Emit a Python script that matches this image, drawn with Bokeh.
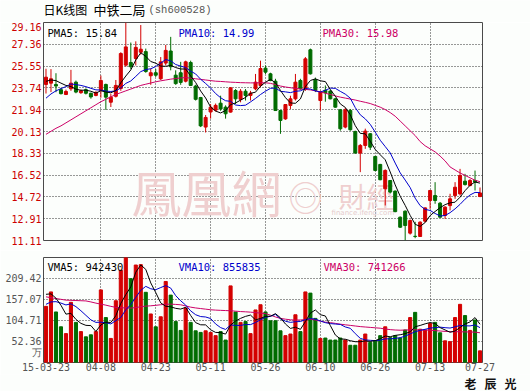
from bokeh.plotting import figure
from bokeh.models import Range1d, FixedTicker, Label, Grid, ColumnDataSource, BasicTickFormatter
from bokeh.layouts import column
from bokeh.embed import file_html
from bokeh.resources import INLINE

# ---------------- data ----------------
tick_idx = [0, 11, 22, 33, 44, 55, 66, 77, 87]
tick_labels = ["15-03-23", "04-08", "04-23", "05-11", "05-26", "06-10", "06-26", "07-13", "07-27"]
grid_idx = [11, 22, 33, 44, 55, 66, 77]
price_ticks = [11.11, 12.91, 14.72, 16.52, 18.33, 20.13, 21.94, 23.74, 25.55, 27.36, 29.16]
vol_ticks = [52.36, 104.71, 157.07, 209.42]
vol_unit_pos = 25
vol_unit = "万"
vol_top = 261.78

title_parts = ["日K线图", "中铁二局", "(sh600528)"]
pma_text = ["PMA5: 15.84", "PMA10: 14.99", "PMA30: 15.98"]
vma_text = ["VMA5: 942430", "VMA10: 855835", "VMA30: 741266"]
footer_chars = ["老", "辰", "光"]

open_ = [24.03, 24.14, 24.03, 23.60, 23.20, 23.67, 24.22, 23.35, 23.60, 23.30,
         23.12, 23.53, 24.03, 22.56, 23.05, 23.70, 25.63, 25.85, 26.18, 26.70,
         26.75, 24.75, 25.00, 24.50, 25.80, 26.80, 24.80, 25.00, 24.30, 25.85,
         23.90, 22.95, 20.50, 21.75, 21.90, 22.48, 22.15, 21.74, 23.53, 22.80,
         23.47, 23.12, 23.67, 23.94, 25.38, 24.91, 24.30, 21.87, 21.18, 22.29,
         22.84, 24.36, 23.67, 26.90, 24.42, 22.70, 23.55, 23.48, 22.84, 21.93,
         20.50, 21.88, 20.14, 18.35, 18.98, 19.95, 18.07, 17.41, 15.39, 16.08,
         15.20, 13.04, 13.54, 11.72, 11.46, 11.44, 12.71, 14.42, 14.83, 14.20,
         13.18, 14.00, 14.83, 14.97, 16.02, 15.66, 16.08, 14.75]
close = [24.63, 24.50, 23.90, 23.27, 23.45, 24.14, 23.40, 23.50, 23.30, 23.00,
         23.38, 24.36, 22.98, 22.98, 23.95, 26.59, 27.14, 25.50, 27.10, 26.95,
         25.10, 25.00, 24.80, 25.90, 26.85, 25.50, 24.10, 24.20, 25.90, 23.95,
         22.80, 20.60, 21.30, 22.15, 22.30, 22.00, 21.60, 23.75, 22.84, 23.47,
         23.12, 23.31, 24.22, 25.35, 25.05, 24.36, 21.87, 21.05, 22.37, 22.84,
         24.22, 23.67, 26.15, 24.91, 23.53, 23.40, 23.35, 22.84, 22.15, 20.36,
         21.93, 20.28, 18.35, 18.98, 20.17, 18.84, 16.91, 16.14, 16.91, 15.12,
         13.50, 12.21, 12.35, 12.76, 11.44, 12.63, 13.81, 15.25, 14.42, 13.04,
         13.87, 14.56, 15.52, 16.49, 15.74, 16.08, 15.94, 15.05]
high = [25.33, 25.30, 24.96, 23.75, 23.60, 25.24, 24.35, 23.60, 23.70, 23.35,
        23.45, 24.77, 24.10, 23.26, 24.40, 26.70, 29.16, 27.50, 27.60, 28.95,
        27.00, 25.35, 25.30, 26.30, 27.30, 27.97, 25.20, 25.90, 26.00, 26.00,
        24.00, 23.00, 21.50, 22.40, 22.45, 23.10, 22.30, 23.80, 23.65, 23.65,
        23.65, 23.50, 24.90, 26.00, 25.60, 25.00, 24.50, 21.90, 22.40, 23.10,
        24.90, 24.50, 26.30, 27.00, 24.60, 23.50, 23.95, 23.60, 22.90, 22.00,
        22.10, 22.00, 20.20, 19.10, 20.37, 20.00, 18.10, 17.45, 17.00, 16.10,
        15.25, 13.10, 13.60, 12.85, 12.66, 12.70, 13.85, 15.30, 15.94, 14.30,
        13.95, 14.98, 15.94, 17.04, 16.63, 16.20, 16.90, 15.50]
low = [23.28, 23.40, 23.39, 23.20, 23.15, 23.50, 23.30, 23.25, 23.20, 22.85,
       23.05, 22.93, 21.93, 22.16, 22.95, 23.50, 25.50, 25.30, 25.60, 26.50,
       25.00, 24.00, 24.65, 24.40, 25.60, 25.20, 24.00, 24.00, 24.20, 23.90,
       22.70, 20.50, 20.05, 21.20, 21.80, 21.85, 21.20, 21.70, 22.40, 22.55,
       22.70, 22.70, 23.55, 23.80, 24.90, 24.30, 21.85, 19.94, 21.10, 22.00,
       22.70, 23.60, 23.50, 24.85, 23.40, 21.88, 22.60, 22.80, 22.10, 20.20,
       20.40, 20.20, 18.30, 16.77, 18.70, 18.60, 16.85, 16.10, 14.01, 15.00,
       13.45, 12.15, 11.11, 11.60, 11.30, 11.40, 12.60, 13.73, 14.15, 13.00,
       12.90, 13.60, 14.56, 14.83, 15.66, 15.60, 15.25, 14.70]
# closes before the window, estimated from where the MA5/MA10 lines start
prior_close = [21.0, 21.3, 21.5, 21.7, 22.0, 23.9, 24.2, 24.3, 24.4]
# 30-day price average as drawn
ma30 = [19.90, 20.15, 20.40, 20.60, 20.85, 21.10, 21.35, 21.60, 21.85, 22.10,
        22.35, 22.60, 22.80, 23.00, 23.20, 23.35, 23.50, 23.65, 23.80, 23.95,
        24.05, 24.15, 24.25, 24.33, 24.40, 24.47, 24.52, 24.57, 24.60, 24.55,
        24.50, 24.45, 24.40, 24.35, 24.30, 24.28, 24.25, 24.22, 24.20, 24.18,
        24.17, 24.16, 24.16, 24.17, 24.17, 24.12, 24.02, 23.90, 23.82, 23.76,
        23.70, 23.66, 23.62, 23.58, 23.50, 23.42, 23.30, 23.20, 23.08, 22.98,
        22.90, 22.82, 22.74, 22.64, 22.55, 22.45, 22.30, 22.15, 21.95, 21.70,
        21.40, 21.00, 20.60, 20.20, 19.80, 19.30, 18.95, 18.70, 18.45, 18.10,
        17.70, 17.20, 16.95, 16.70, 16.50, 16.30, 16.10, 15.98]

# volume in 万
volume = [140, 176, 126, 89, 72, 150, 100, 77, 64, 69,
          77, 181, 112, 60, 154, 230, 290, 209, 243, 244,
          175, 121, 89, 114, 202, 168, 102, 80, 136, 100,
          79, 75, 79, 75, 67, 77, 56, 191, 126, 100,
          102, 72, 131, 144, 126, 104, 104, 79, 67, 71,
          119, 77, 176, 173, 110, 60, 61, 56, 56, 61,
          56, 43, 43, 56, 71, 50, 53, 67, 89, 62,
          67, 61, 81, 112, 125, 83, 81, 97, 100, 74,
          54, 52, 112, 145, 117, 80, 106, 29]
prior_volume = [115, 120, 125, 118, 122, 170, 180, 178, 182]
vma30 = [163.8, 161.5, 159.5, 157.5, 155.5, 155.0, 154.5, 154.0, 153.5, 151.0,
         148.0, 145.5, 143.0, 140.0, 137.5, 136.5, 136.0, 135.6, 137.0, 139.0,
         140.5, 141.4, 142.5, 144.0, 145.2, 145.5, 144.8, 143.9, 141.0, 138.0,
         136.0, 134.5, 133.0, 131.5, 130.6, 130.0, 129.5, 129.0, 128.0, 127.0,
         126.4, 125.5, 124.5, 123.0, 122.0, 118.0, 113.5, 110.0, 108.0, 106.5,
         105.7, 106.0, 107.0, 108.0, 106.0, 103.0, 100.5, 99.5, 97.5, 95.5,
         94.0, 92.5, 91.0, 89.5, 88.5, 87.5, 86.5, 85.5, 83.5, 82.0,
         81.0, 80.5, 81.0, 81.5, 81.5, 81.0, 81.0, 80.5, 79.5, 78.5,
         77.5, 77.0, 76.8, 76.6, 76.3, 76.0, 75.7, 74.1]

# ---------------- derived ----------------
n = len(close)
xs = list(range(n))


def moving(prior, vals, k):
    allv = prior + vals
    off = len(prior)
    return [sum(allv[i + off - k + 1:i + off + 1]) / k for i in range(len(vals))]


ma5 = moving(prior_close, close, 5)
ma10 = moving(prior_close, close, 10)
vma5 = moving(prior_volume, volume, 5)
vma10 = moving(prior_volume, volume, 10)

UP, DOWN = "#d40000", "#006c00"
colors = [UP if c >= o else DOWN for o, c in zip(open_, close)]
body_top = [max(o, c) for o, c in zip(open_, close)]
body_bot = [min(o, c) for o, c in zip(open_, close)]

src = ColumnDataSource(dict(x=xs, h=high, l=low, top=body_top, bot=body_bot, color=colors,
                            ma5=ma5, ma10=ma10, ma30=ma30, vol=volume,
                            vma5=vma5, vma10=vma10, vma30=vma30))

BG = "#fcfefc"
MONO = "DejaVu Sans Mono"
CJK = "Noto Sans CJK SC"
GRID = "#333333"
BORDER = "#4a4a4a"
W = 530


def strip(h):
    f = figure(width=W, height=h, x_range=Range1d(0, W), y_range=Range1d(0, h),
               x_axis_location=None, y_axis_location=None, toolbar_location=None,
               output_backend="svg", title=None, min_border=0, frame_align=False,
               background_fill_color=BG, border_fill_color=BG, outline_line_color=None)
    f.xgrid.visible = False
    f.ygrid.visible = False
    return f


# ---------------- title strip ----------------
top = strip(22)
for txt, xx, font, size, col in zip(title_parts, [43, 93, 148],
                                    [CJK, CJK, "Liberation Mono"],
                                    ["12px", "13px", "10.5px"],
                                    ["#000000", "#000000", "#555555"]):
    top.add_layout(Label(x=xx, y=13, text=txt, text_font=font, text_font_size=size,
                         text_color=col, text_baseline="middle"))

# ---------------- price panel ----------------
p1 = figure(width=W, height=228, x_range=Range1d(-0.5, n - 0.5),
            y_range=Range1d(price_ticks[0], price_ticks[-1]),
            x_axis_location=None, toolbar_location=None, output_backend="svg", title=None,
            min_border_left=43, min_border_right=48, min_border_top=0, min_border_bottom=10,
            background_fill_color=BG, border_fill_color=BG, outline_line_color=BORDER)
p1.xgrid.visible = False
p1.add_layout(Grid(dimension=0, ticker=FixedTicker(ticks=grid_idx), grid_line_color=GRID,
                   grid_line_dash="1 2", grid_line_width=1))
p1.ygrid.grid_line_color = GRID
p1.ygrid.grid_line_dash = "1 2"
ya = p1.yaxis[0]
ya.ticker = FixedTicker(ticks=price_ticks)
ya.formatter = BasicTickFormatter(precision=2, use_scientific=False)
ya.major_label_text_color = "#cc0000"
ya.major_label_text_font = MONO
ya.major_label_text_font_size = "10px"
ya.major_tick_out = 0
ya.major_tick_in = 0
ya.minor_tick_out = 0
ya.minor_tick_in = 0
ya.axis_line_color = None
ya.major_label_standoff = 2

# watermark
wm = "#efcfcf"
p1.add_layout(Label(x=88, y=50, x_units="screen", y_units="screen", text="鳳凰網",
                    text_font="Noto Sans CJK TC", text_font_size="50px", text_color=wm,
                    text_baseline="middle", level="underlay"))
p1.add_layout(Label(x=262, y=44, x_units="screen", y_units="screen", text="◎",
                    text_font=CJK, text_font_size="34px", text_color=wm,
                    text_align="center", text_baseline="middle", level="underlay"))
p1.add_layout(Label(x=295, y=45, x_units="screen", y_units="screen", text="財經",
                    text_font="Noto Sans CJK TC", text_font_size="28px", text_color=wm,
                    text_baseline="middle", level="underlay"))
p1.add_layout(Label(x=288, y=28, x_units="screen", y_units="screen", text="finance.ifeng.com",
                    text_font="DejaVu Sans", text_font_size="7px", text_color="#e6cccc",
                    text_baseline="middle", level="underlay"))

p1.segment(x0="x", y0="h", x1="x", y1="l", line_color="color", line_width=1, source=src)
p1.vbar(x="x", width=0.6, top="top", bottom="bot", fill_color="color", line_color="color",
        line_width=1, source=src)
p1.line("x", "ma30", line_color="#cc0066", line_width=1, source=src)
p1.line("x", "ma10", line_color="#0000cc", line_width=1, source=src)
p1.line("x", "ma5", line_color="#000000", line_width=1, source=src)

for txt, xx, col in zip(pma_text, [4, 135, 279], ["#000000", "#0000cc", "#cc0066"]):
    p1.add_layout(Label(x=xx, y=208, x_units="screen", y_units="screen", text=txt,
                        text_font=MONO, text_font_size="10.5px", text_color=col,
                        text_baseline="middle"))

# ---------------- volume panel ----------------
p2 = figure(width=W, height=124, x_range=p1.x_range, y_range=Range1d(0, vol_top),
            toolbar_location=None, output_backend="svg", title=None,
            min_border_left=43, min_border_right=48, min_border_top=7, min_border_bottom=12,
            background_fill_color=BG, border_fill_color=BG, outline_line_color=BORDER)
p2.xgrid.ticker = FixedTicker(ticks=grid_idx)
p2.ygrid.ticker = FixedTicker(ticks=vol_ticks)
for g in (p2.xgrid[0], p2.ygrid[0]):
    g.grid_line_color = GRID
    g.grid_line_dash = "1 2"
xa = p2.xaxis[0]
xa.ticker = FixedTicker(ticks=tick_idx)
xa.major_label_overrides = {i: s for i, s in zip(tick_idx, tick_labels)}
ya2 = p2.yaxis[0]
ya2.ticker = FixedTicker(ticks=[vol_unit_pos] + vol_ticks)
ya2.formatter = BasicTickFormatter(precision=2, use_scientific=False)
ya2.major_label_overrides = {vol_unit_pos: vol_unit}
for ax in (xa, ya2):
    ax.major_label_text_color = "#555555"
    ax.major_label_text_font = MONO
    ax.major_label_text_font_size = "10px"
    ax.major_tick_out = 0
    ax.major_tick_in = 0
    ax.minor_tick_out = 0
    ax.minor_tick_in = 0
    ax.axis_line_color = None
ya2.major_label_standoff = 2
xa.major_label_standoff = 0

p2.vbar(x="x", width=0.62, top="vol", bottom=0, fill_color="color", line_color="color",
        line_width=1, source=src)
p2.line("x", "vma30", line_color="#cc0066", line_width=1, source=src)
p2.line("x", "vma10", line_color="#0000cc", line_width=1, source=src)
p2.line("x", "vma5", line_color="#000000", line_width=1, source=src)

for txt, xx, col in zip(vma_text, [4, 135, 280], ["#000000", "#0000cc", "#cc0066"]):
    p2.add_layout(Label(x=xx, y=96, x_units="screen", y_units="screen", text=txt,
                        text_font=MONO, text_font_size="10.5px", text_color=col,
                        text_baseline="middle"))

# ---------------- footer strip ----------------
bot = strip(17)
for ch, cx in zip(footer_chars, [470, 490, 510]):
    bot.add_layout(Label(x=cx, y=8.5, text=ch, text_font=CJK, text_font_size="12px",
                         text_font_style="bold", text_color="#111111",
                         text_align="center", text_baseline="middle"))

layout = column(top, p1, p2, bot, spacing=0)
open("out.html", "w").write(file_html(layout, INLINE))
